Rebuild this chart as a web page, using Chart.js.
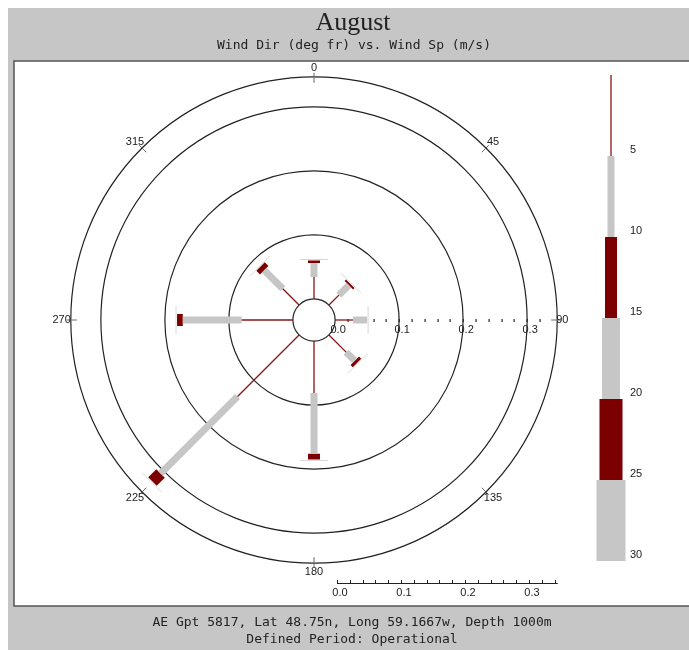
<!DOCTYPE html>
<html>
<head>
<meta charset="utf-8">
<script src="https://cdn.jsdelivr.net/npm/chart.js@4.4.0/dist/chart.umd.min.js"></script>
<style>
  html, body { margin: 0; padding: 0; background: #fff; }
  canvas { display: block; }
</style>
</head>
<body>
<canvas id="rose" width="689" height="650"></canvas>
<script>
// wind rose data (fraction of time)
const directions = [0, 45, 90, 135, 180, 225, 270, 315];
const dirLabels = ['0', '45', '90', '135', '180', '225', '270', '315'];
const speedClasses = ['0-5', '5-10', '10-15', '15-20', '20-25', '25-30'];
const speedLabels = ['5', '10', '15', '20', '25', '30'];
const freq0to5   = [0.034, 0.022, 0.028, 0.038, 0.081, 0.136, 0.080, 0.036];
const freq5to10  = [0.022, 0.022, 0.022, 0.019, 0.095, 0.170, 0.092, 0.041];
const freq10to15 = [0.004, 0.003, 0.000, 0.005, 0.009, 0.018, 0.009, 0.008];
const freq15to20 = [0, 0, 0, 0, 0, 0, 0, 0];
const freq20to25 = [0, 0, 0, 0, 0, 0, 0, 0];
const freq25to30 = [0, 0, 0, 0, 0, 0, 0, 0];
const ringTicks = [0.1, 0.2, 0.3];
const scaleTicks = [0.0, 0.1, 0.2, 0.3];

const allFreq = [freq0to5, freq5to10, freq10to15, freq15to20, freq20to25, freq25to30];

// styles
const RED = '#7d0000';
const GREY = '#c6c6c6';
const classColors = ['#8a1515', GREY, RED, GREY, RED, GREY];
const classWidths = [1.3, 7, 12, 18, 23, 29];
const OFFSET = 0.033;   // radius of the calm circle, in data units
const OUTER = 0.347;    // outer ring

function pt(deg, r) {
  const a = deg * Math.PI / 180;
  return { x: r * Math.sin(a), y: r * Math.cos(a) };
}

var datasets = [];
directions.forEach((d, i) => {
  var cum = 0;
  allFreq.forEach((f, k) => {
    const v = f[i];
    if (v > 0) {
      datasets.push({
        label: speedClasses[k] + ' @ ' + d,
        data: [pt(d, OFFSET + cum), pt(d, OFFSET + cum + v)],
        showLine: true,
        borderColor: classColors[k],
        borderWidth: classWidths[k],
        borderCapStyle: 'butt',
        pointRadius: 0
      });
    }
    cum += v;
  });
});

const roseDecor = {
  id: 'roseDecor',
  beforeDraw(chart) {
    const ctx = chart.ctx;
    ctx.save();
    ctx.fillStyle = '#fff';
    ctx.fillRect(0, 0, 689, 650);
    ctx.fillStyle = '#c6c6c6';
    ctx.fillRect(8, 8, 681, 642);
    ctx.fillStyle = '#fff';
    ctx.fillRect(14, 61, 676, 545);
    ctx.strokeStyle = '#555';
    ctx.lineWidth = 1.5;
    ctx.strokeRect(14, 61, 680, 545);

    ctx.fillStyle = '#222';
    ctx.textAlign = 'center';
    ctx.textBaseline = 'alphabetic';
    ctx.font = '26px "Liberation Serif"';
    ctx.fillText('August', 353, 30);
    ctx.font = '13px "DejaVu Sans Mono"';
    ctx.fillText('Wind Dir (deg fr) vs. Wind Sp (m/s)', 354, 49);
    ctx.fillText('AE Gpt 5817, Lat 48.75n, Long 59.1667w, Depth 1000m', 352, 626);
    ctx.fillText('Defined Period: Operational', 352, 643);
    ctx.restore();
  },
  beforeDatasetsDraw(chart) {
    const ctx = chart.ctx;
    const xs = chart.scales.x, ys = chart.scales.y;
    const cx = xs.getPixelForValue(0), cy = ys.getPixelForValue(0);
    const ppu = xs.getPixelForValue(1) - cx;
    const rad = v => (OFFSET + v) * ppu;
    ctx.save();
    ctx.strokeStyle = '#222';
    ctx.lineWidth = 1.2;
    // calm circle, rings, outer ring
    [OFFSET * ppu].concat(ringTicks.map(rad), [rad(OUTER)]).forEach(r => {
      ctx.beginPath();
      ctx.arc(cx, cy, r, 0, Math.PI * 2);
      ctx.stroke();
    });
    // direction ticks and labels
    const rOut = rad(OUTER);
    ctx.font = '11px "Liberation Sans"';
    ctx.fillStyle = '#222';
    ctx.textBaseline = 'middle';
    directions.forEach((d, i) => {
      const a = d * Math.PI / 180;
      const sx = Math.sin(a), sy = -Math.cos(a);
      ctx.strokeStyle = '#666';
      ctx.lineWidth = 1;
      ctx.beginPath();
      ctx.moveTo(cx + sx * (rOut - 6), cy + sy * (rOut - 6));
      ctx.lineTo(cx + sx * (rOut + 4), cy + sy * (rOut + 4));
      ctx.stroke();
      if (d === 90) {
        ctx.textAlign = 'left';
        ctx.fillText(dirLabels[i], cx + rOut - 1, cy);
      } else if (d === 270) {
        ctx.textAlign = 'right';
        ctx.fillText(dirLabels[i], cx - rOut, cy);
      } else {
        ctx.textAlign = 'center';
        ctx.fillText(dirLabels[i], cx + sx * (rOut + 10), cy + sy * (rOut + 9));
      }
    });
    // dotted scale along east axis
    ctx.fillStyle = '#222';
    for (var v = 0.02; v < OUTER - 0.01; v += 0.02) {
      ctx.fillRect(Math.round(cx + rad(v)) - 0.5, cy - 1, 1.2, 3);
    }
    ctx.textAlign = 'center';
    scaleTicks.forEach(t => {
      ctx.fillText(t.toFixed(1), cx + rad(t) + 3, cy + 10);
    });
    ctx.restore();
  },
  afterDatasetsDraw(chart) {
    const ctx = chart.ctx;
    const xs = chart.scales.x, ys = chart.scales.y;
    const cx = xs.getPixelForValue(0), cy = ys.getPixelForValue(0);
    const ppu = xs.getPixelForValue(1) - cx;
    ctx.save();
    // faint end markers across each bar
    ctx.strokeStyle = 'rgba(200,200,200,0.7)';
    ctx.lineWidth = 1;
    directions.forEach((d, i) => {
      var tot = 0;
      allFreq.forEach(f => { tot += f[i]; });
      const a = d * Math.PI / 180;
      const sx = Math.sin(a), sy = -Math.cos(a);
      const r = (OFFSET + tot) * ppu + 1;
      const px = cx + sx * r, py = cy + sy * r;
      ctx.beginPath();
      ctx.moveTo(px - sy * 14, py + sx * 14);
      ctx.lineTo(px + sy * 14, py - sx * 14);
      ctx.stroke();
    });

    // speed class key on the right
    const kx = 611, ky0 = 75, step = 81;
    ctx.font = '11px "Liberation Sans"';
    ctx.textBaseline = 'middle';
    ctx.textAlign = 'left';
    speedClasses.forEach((c, k) => {
      const top = ky0 + k * step;
      ctx.fillStyle = classColors[k];
      const w = classWidths[k];
      ctx.fillRect(kx - w / 2, top, w, step);
      ctx.fillStyle = '#222';
      ctx.fillText(speedLabels[k], 630, top + step - 6);
    });

    // length scale at the bottom
    const x0 = 337, by = 583;
    ctx.strokeStyle = '#222';
    ctx.lineWidth = 1;
    ctx.beginPath();
    ctx.moveTo(x0, by + 0.5);
    ctx.lineTo(x0 + 0.345 * ppu, by + 0.5);
    ctx.stroke();
    for (var v = 0; v <= 0.341; v += 0.02) {
      const tx = Math.round(x0 + v * ppu) + 0.5;
      ctx.beginPath();
      ctx.moveTo(tx, by - 3);
      ctx.lineTo(tx, by);
      ctx.stroke();
    }
    ctx.textAlign = 'center';
    scaleTicks.forEach(t => {
      ctx.fillText(t.toFixed(1), x0 + t * ppu + 3, by + 10);
    });
    ctx.restore();
  }
};

new Chart(document.getElementById('rose'), {
  type: 'scatter',
  data: { datasets: datasets },
  options: {
    responsive: false,
    animation: false,
    events: [],
    layout: { padding: { left: 58, right: 119, top: 64, bottom: 74 } },
    scales: {
      x: { type: 'linear', min: -0.4, max: 0.4, display: false },
      y: { type: 'linear', min: -0.4, max: 0.4, display: false }
    },
    plugins: {
      legend: { display: false },
      tooltip: { enabled: false }
    }
  },
  plugins: [roseDecor]
});
</script>
</body>
</html>
